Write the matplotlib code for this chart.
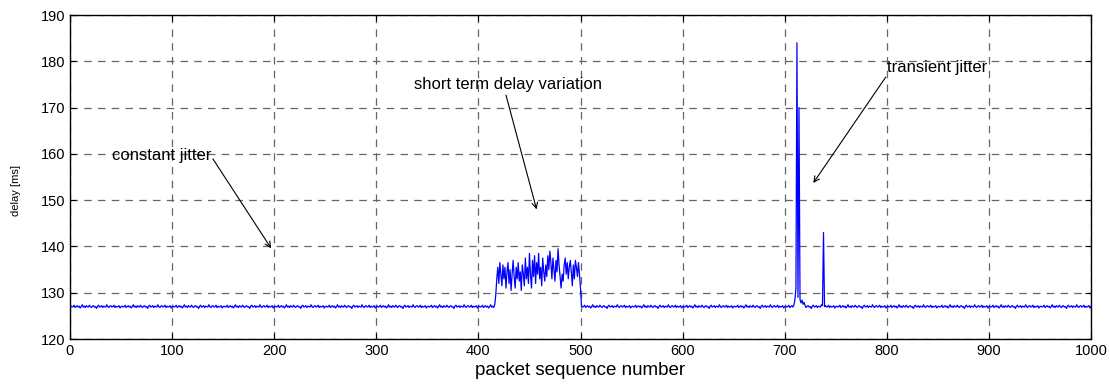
import numpy as np
import matplotlib

matplotlib.use("Agg")
import matplotlib.pyplot as plt

plt.rcParams["font.family"] = ["Liberation Sans", "DejaVu Sans"]

baseline_pattern = [
    127.1, 126.9, 127.0, 127.3, 126.8, 127.0, 127.2, 126.9, 127.1, 126.7,
    127.0, 127.4, 126.9, 127.1, 126.8, 127.2, 127.0, 126.9, 127.3, 127.0,
    126.8, 127.1, 127.2, 126.9, 127.0, 126.6, 127.1, 127.3, 126.9, 127.0,
    127.2, 126.8, 127.1, 127.0, 126.9, 127.4, 127.0, 126.8, 127.1, 127.2,
    126.9, 127.0, 127.3, 126.8, 127.1, 126.9, 127.0, 127.2, 126.7, 127.0,
]

# short term delay variation, packets 416..500
burst_start = 416
burst_values = [
    127.4, 129.5, 133.0, 135.5, 132.0, 136.5, 134.0, 131.5, 136.0, 133.0,
    135.5, 131.0, 134.5, 136.5, 132.0, 135.0, 130.5, 134.0, 137.0, 133.5,
    131.0, 135.5, 133.0, 136.5, 132.5, 134.5, 130.5, 136.0, 134.0, 131.5,
    137.5, 133.0, 135.5, 132.0, 138.5, 134.0, 131.0, 137.0, 133.5, 138.0,
    132.0, 136.5, 134.0, 138.5, 133.0, 135.5, 131.5, 137.5, 134.5, 132.5,
    136.0, 133.5, 138.0, 135.0, 139.0, 136.5, 133.0, 137.5, 135.0, 132.5,
    137.0, 134.5, 139.5, 136.0, 133.5, 131.0, 134.0, 132.5, 136.0, 137.5,
    134.0, 136.5, 133.0, 135.5, 137.0, 134.5, 131.5, 136.0, 133.0, 137.0,
    135.5, 133.5, 136.5, 134.0, 131.0,
]

# transient jitter, packets 709..720 and 737..739
spike1_start = 709
spike1_values = [127.3, 128.5, 131.0, 184.0, 129.0, 170.0, 128.5, 127.8,
                 128.4, 127.5, 127.9, 127.2]
spike2_start = 737
spike2_values = [127.2, 143.0, 127.0]

n_packets = 1000
packets = np.arange(1, n_packets + 1)
delay = np.resize(np.array(baseline_pattern), n_packets)
for start, vals in [(burst_start, burst_values),
                    (spike1_start, spike1_values),
                    (spike2_start, spike2_values)]:
    delay[start - 1:start - 1 + len(vals)] = vals

fig = plt.figure(figsize=(11.1, 3.9), dpi=100)
ax = fig.add_axes([70 / 1110, 1 - 339 / 390, 1021 / 1110, 324 / 390])

ax.plot(packets, delay, color="#0000ff", lw=0.9)

ax.set_xlim(0, 1000)
ax.set_ylim(120, 190)
ax.set_xticks(np.arange(0, 1001, 100))
ax.set_yticks(np.arange(120, 191, 10))
ax.tick_params(direction="in", length=4, labelsize=10.5, top=True, right=True,
               width=0.8)
ax.grid(True, color="#666666", linestyle=(0, (6, 5)), lw=0.9)
for sp in ax.spines.values():
    sp.set_linewidth(1.0)

ax.set_xlabel("packet sequence number", fontsize=13.5, labelpad=3)
fig.text(16 / 1110, 1 - 190 / 390, "delay [ms]", rotation=90, fontsize=8,
         ha="center", va="center")

arrow = dict(arrowstyle="->", lw=0.8, color="black", shrinkA=0, shrinkB=0)
ax.text(41, 159.7, "constant jitter", fontsize=12, ha="left", va="center")
ax.annotate("", xy=(197, 139.6), xytext=(140, 158.9), arrowprops=arrow)

ax.text(337, 174.9, "short term delay variation", fontsize=12, ha="left",
        va="center")
ax.annotate("", xy=(457, 148.0), xytext=(427, 172.7), arrowprops=arrow)

ax.text(800, 178.7, "transient jitter", fontsize=12, ha="left", va="center")
ax.annotate("", xy=(728, 153.7), xytext=(799, 176.6), arrowprops=arrow)

fig.savefig("out.png", dpi=100)
plt.close(fig)
